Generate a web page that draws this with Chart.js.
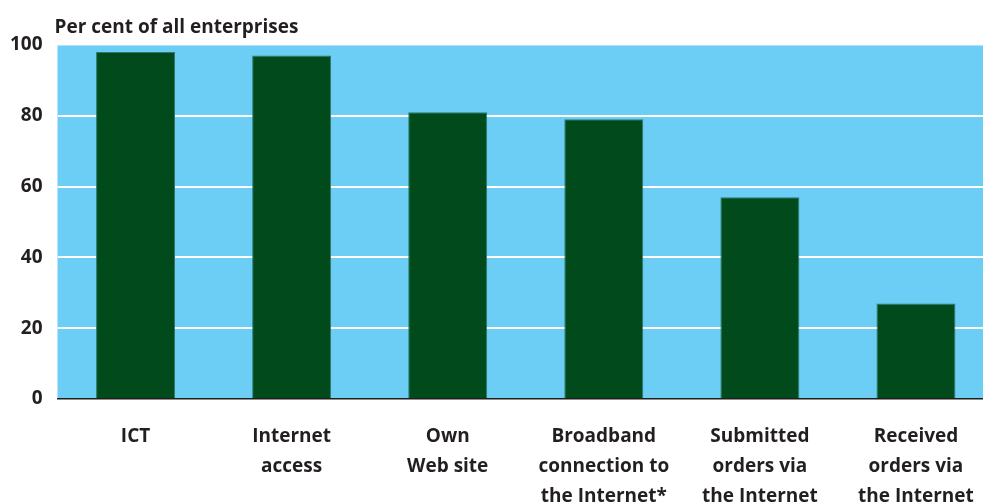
<!DOCTYPE html>
<html>
<head>
<meta charset="utf-8">
<script src="https://cdn.jsdelivr.net/npm/chart.js@4"></script>
<style>
  html, body { margin: 0; padding: 0; background: #ffffff; overflow: hidden; }
  #wrap { position: absolute; left: 0; top: 0; width: 994px; height: 515px; }
</style>
</head>
<body>
<div id="wrap"><canvas id="c" width="994" height="515"></canvas></div>
<script>
// Share of enterprises using each ICT feature
const categories = [
  ['ICT'],
  ['Internet', 'access'],
  ['Own', 'Web site'],
  ['Broadband', 'connection to', 'the Internet*'],
  ['Submitted', 'orders via', 'the Internet'],
  ['Received', 'orders via', 'the Internet']
];
const shareOfEnterprises = [98, 97, 81, 79, 57, 27];
const yTicks = [0, 20, 40, 60, 80, 100];
const axisCaption = 'Per cent of all enterprises';

const FONT_FAMILY = '"Open Sans", "Noto Sans", sans-serif';
const FONT_SIZE = 19;
const TEXT_COLOR = '#231f20';
const PLOT_BLUE = '#6ccef5';
const BAR_GREEN = '#004a1b';

// Fill the plot area before anything else is drawn
const plotBackground = {
  id: 'plotBackground',
  beforeDraw(chart) {
    const { ctx, chartArea: a } = chart;
    ctx.save();
    ctx.fillStyle = PLOT_BLUE;
    ctx.fillRect(a.left, a.top, a.right - a.left, a.bottom - a.top);
    ctx.restore();
  }
};

// Unit caption above the top-left corner of the plot
const unitCaption = {
  id: 'unitCaption',
  afterDraw(chart) {
    const { ctx, chartArea: a } = chart;
    ctx.save();
    ctx.font = 'bold ' + FONT_SIZE + 'px ' + FONT_FAMILY;
    ctx.fillStyle = TEXT_COLOR;
    ctx.textAlign = 'left';
    ctx.textBaseline = 'alphabetic';
    ctx.fillText(axisCaption, a.left - 3, 33);
    ctx.restore();
  }
};

new Chart(document.getElementById('c'), {
  type: 'bar',
  data: {
    labels: categories,
    datasets: [{
      data: shareOfEnterprises,
      backgroundColor: BAR_GREEN,
      borderColor: '#2c7c6c',
      borderWidth: 1,
      borderSkipped: 'start',
      barPercentage: 0.506,
      categoryPercentage: 1
    }]
  },
  options: {
    responsive: false,
    animation: false,
    devicePixelRatio: 1,
    layout: { padding: { top: 45, left: 0, right: 0, bottom: 0 } },
    plugins: {
      legend: { display: false },
      title: { display: false },
      tooltip: { enabled: false }
    },
    scales: {
      x: {
        offset: true,
        grid: { display: false, drawTicks: false },
        border: { display: true, color: '#1d1d1b', width: 1.5 },
        ticks: {
          color: TEXT_COLOR,
          font: { family: FONT_FAMILY, size: FONT_SIZE, weight: 'bold', lineHeight: 1.56 },
          padding: 23,
          maxRotation: 0,
          autoSkip: false
        },
        afterFit(scale) {
          scale.height = 116;
          scale.paddingLeft = 0;
          scale.paddingRight = 0;
        }
      },
      y: {
        min: 0,
        max: 100,
        afterBuildTicks(scale) { scale.ticks = yTicks.map(v => ({ value: v })); },
        grid: {
          drawTicks: false,
          lineWidth: 2,
          color(ctx) {
            if (ctx.tick.value === 0) return 'rgba(0,0,0,0)';
            if (ctx.tick.value === 100) return 'rgba(255,255,255,0.45)';
            return '#ffffff';
          }
        },
        border: { display: false },
        ticks: {
          color: TEXT_COLOR,
          font: { family: FONT_FAMILY, size: FONT_SIZE, weight: 'bold' },
          padding: 15,
          callback: v => String(v)
        },
        afterFit(scale) { scale.width = 57.5; }
      }
    }
  },
  plugins: [plotBackground, unitCaption]
});
</script>
</body>
</html>
